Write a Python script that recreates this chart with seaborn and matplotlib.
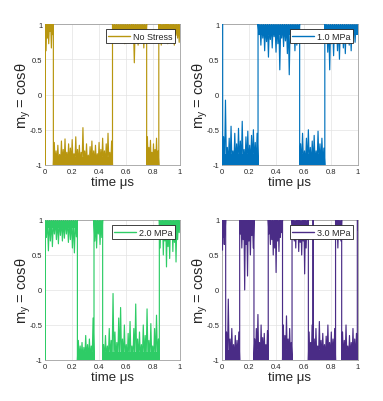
import numpy as np
import pandas as pd
import matplotlib
matplotlib.use("Agg")
import matplotlib.pyplot as plt
import seaborn as sns

# ---------------- data ----------------
time_ticks = [0, 0.2, 0.4, 0.6, 0.8, 1]
time_tick_labels = ["0", "0.2", "0.4", "0.6", "0.8", "1"]
my_ticks = [-1, -0.5, 0, 0.5, 1]
my_tick_labels = ["-1", "-0.5", "0", "0.5", "1"]

labels = ["No Stress", "1.0 MPa", "2.0 MPa", "3.0 MPa"]
colors = ["#B8960F", "#0072BD", "#2ECC66", "#4A2C86"]

# switching times (µs) and the rail (+1 / -1) held between them
switch_nostress = [0, 0.003, 0.062, 0.5, 0.753, 0.843, 1.0]
state_nostress = [-1, 1, -1, 1, -1, 1]
spikes_nostress = [
    [],
    [0.62, 0.8, 0.72, 0.9, 0.66, 0.85],
    [-0.68, -0.8, -0.72, -0.85, -0.66, -0.78, -0.63, -0.82, -0.7, -0.76, -0.64,
     -0.84, -0.6, -0.78, -0.72, -0.82, -0.47, -0.8, -0.7, -0.86, -0.74, -0.66,
     -0.8, -0.72, -0.84, -0.68, -0.78, -0.62, -0.8, -0.7, -0.55, -0.82, -0.66],
    [0.85, 0.78, 0.9, 0.74, 0.82, 0.88, 0.72, 0.8, 0.86, 0.76, 0.9, 0.45, 0.84,
     0.7, 0.82, 0.88, 0.66, 0.8],
    [-0.6, -0.75, -0.65, -0.82, -0.7, -0.78, -0.62, -0.8],
    [0.8, 0.7, 0.85, 0.76, 0.9, 0.72, 0.82, 0.78, 0.88, 0.7, 0.84, 0.8, 0.74],
]

switch_1mpa = [0, 0.005, 0.265, 0.571, 0.756, 1.0]
state_1mpa = [1, -1, 1, -1, 1]
spikes_1mpa = [
    [],
    [-0.6, -0.08, -0.75, -0.62, -0.45, -0.8, -0.55, -0.7, -0.48, -0.66, -0.38,
     -0.78, -0.6, -0.52, -0.72, -0.58, -0.5, -0.68, -0.55],
    [0.85, 0.7, 0.8, 0.62, 0.75, 0.53, 0.78, 0.66, 0.82, 0.6, 0.72, 0.35, 0.8,
     0.68, 0.76, 0.58, 0.28, 0.74, 0.82, 0.62, 0.7, 0.86],
    [-0.7, -0.55, -0.8, -0.62, -0.5, -0.75, -0.66, -0.58, -0.8, -0.52, -0.7,
     -0.62, -0.76],
    [0.8, 0.6, 0.35, 0.72, 0.55, 0.82, 0.62, 0.5, 0.78, 0.66, 0.58, 0.84, 0.7,
     0.62, 0.8, 0.74, 0.88],
]

switch_2mpa = [0, 0.003, 0.24, 0.363, 0.427, 0.847, 1.0]
state_2mpa = [-1, 1, -1, 1, -1, 1]
spikes_2mpa = [
    [],
    [0.75, 0.56, 0.7, 0.62, 0.8, 0.72, 0.66, 0.78, 0.7, 0.74, 0.8, 0.68, 0.72,
     0.6, 0.53, 0.76],
    [-0.72, -0.8, -0.75, -0.82, -0.65, -0.78, -0.7, -0.8, -0.4],
    [0.7, 0.6, 0.8, 0.65, 0.75],
    [-0.78, -0.65, -0.8, -0.55, -0.72, -0.05, -0.6, -0.75, -0.4, -0.25, -0.7,
     -0.5, -0.78, -0.62, -0.45, -0.8, -0.55, -0.2, -0.7, -0.6, -0.78, -0.5,
     -0.65, -0.27, -0.72, -0.48, -0.8, -0.55, -0.36, -0.7],
    [0.6, 0.8, 0.5, 0.7, 0.33, 0.62, 0.45, 0.75, 0.55, 0.68, 0.4, 0.72, 0.82],
]

switch_3mpa = [0, 0.027, 0.13, 0.235, 0.34, 0.445, 0.515, 0.635, 0.668,
               0.672, 0.835, 0.88, 0.995, 1.0]
state_3mpa = [1, -1, 1, -1, 1, -1, 1, -1, 1, -1, 1, -1, 1]
spikes_3mpa = [
    [0.57, 0.75, 0.65, 0.85],
    [-0.6, -0.13, -0.7, -0.55, -0.78, -0.65, -0.72, -0.6],
    [0.8, 0.6, 0.72, 0.0, 0.65, 0.2, 0.7, 0.5, 0.78, 0.6],
    [-0.7, -0.55, -0.35, -0.75, -0.5, -0.68, -0.62, -0.78, -0.58],
    [0.8, 0.65, 0.72, 0.5, 0.6, 0.25, 0.7, 0.55, 0.75, 0.82],
    [-0.5, -0.65, -0.37, -0.7, -0.55, -0.75],
    [0.8, 0.7, 0.6, 0.75, 0.55, 0.68, 0.5, 0.7, 0.23, 0.6, 0.72],
    [-0.6, -0.75, -0.5],
    [],
    [-0.7, -0.55, -0.8, -0.45, -0.72, -0.62, -0.78, -0.66, -0.5, -0.75, -0.6,
     -0.7, -0.55],
    [0.85, 0.6, 0.8, 0.7],
    [-0.6, -0.72, -0.5, -0.8, -0.65, -0.75, -0.55, -0.7, -0.62],
    [],
]

# depth of the solid, densely oscillating band next to each rail
band_depth = [0.12, 0.15, 0.12, 0.15]

panels = [
    (switch_nostress, state_nostress, spikes_nostress),
    (switch_1mpa, state_1mpa, spikes_1mpa),
    (switch_2mpa, state_2mpa, spikes_2mpa),
    (switch_3mpa, state_3mpa, spikes_3mpa),
]


def build_trace(switch, state, spikes):
    ts, ys = [], []
    for k, rail in enumerate(state):
        t0, t1 = switch[k], switch[k + 1]
        sp = spikes[k]
        n = len(sp)
        ts.append(t0)
        ys.append(rail)
        if n:
            dt = (t1 - t0) / n
            for j, v in enumerate(sp):
                ts += [t0 + dt * (j + 0.5), t0 + dt * (j + 1)]
                ys += [v, rail]
        else:
            ts.append(t1)
            ys.append(rail)
    return pd.DataFrame({"t": ts, "my": ys})


# ---------------- figure ----------------
sns.set_style("white")
plt.rcParams["font.family"] = ["Liberation Sans", "DejaVu Sans"]
plt.rcParams["mathtext.fontset"] = "custom"
plt.rcParams["mathtext.rm"] = "Liberation Sans"
plt.rcParams["mathtext.it"] = "Liberation Sans"

W, H = 383, 402
fig = plt.figure(figsize=(W / 100, H / 100), dpi=100)
boxes = [(45, 25, 135, 141), (222, 25, 136, 141),
         (45, 221, 135, 140), (222, 221, 136, 140)]

for i, (switch, state, spikes) in enumerate(panels):
    x, y, w, h = boxes[i]
    ax = fig.add_axes([x / W, 1 - (y + h) / H, w / W, h / H])
    col = colors[i]
    # solid dense band near each rail
    for k, rail in enumerate(state):
        t0, t1 = switch[k], switch[k + 1]
        ax.fill_between([t0, t1], rail, rail - np.sign(rail) * band_depth[i],
                        color=col, lw=0, zorder=2)
    df = build_trace(switch, state, spikes)
    sns.lineplot(data=df, x="t", y="my", sort=False, estimator=None, ax=ax,
                 color=col, lw=0.85, label=labels[i], zorder=3)

    ax.set_xlim(0, 1)
    ax.set_ylim(-1, 1)
    ax.set_xticks(time_ticks)
    ax.set_xticklabels(time_tick_labels)
    ax.set_yticks(my_ticks)
    ax.set_yticklabels(my_tick_labels)
    ax.grid(True, color="#E3E3E3", lw=0.5, zorder=0)
    ax.set_axisbelow(True)
    ax.tick_params(axis="both", labelsize=5.5, direction="in", length=1.5,
                   width=0.4, color="#888888", pad=2)
    for s in ax.spines.values():
        s.set_color("#A0A0A0")
        s.set_linewidth(0.6)
    ax.set_xlabel("time μs", fontsize=9.5, labelpad=1)
    ax.set_ylabel(r"m$_y$ = cosθ", fontsize=10.5)
    ax.yaxis.set_label_coords(-12 / w, 0.5)
    leg = ax.legend(loc="upper right", fontsize=6.5, frameon=True,
                    fancybox=False, handlelength=2.4, handletextpad=0.3,
                    borderpad=0.3, borderaxespad=0.55)
    leg.get_frame().set_edgecolor("#222222")
    leg.get_frame().set_linewidth(0.6)
    leg.get_frame().set_alpha(1)
    for ln in leg.get_lines():
        ln.set_linewidth(1.0)

fig.savefig("out.png", dpi=100)
